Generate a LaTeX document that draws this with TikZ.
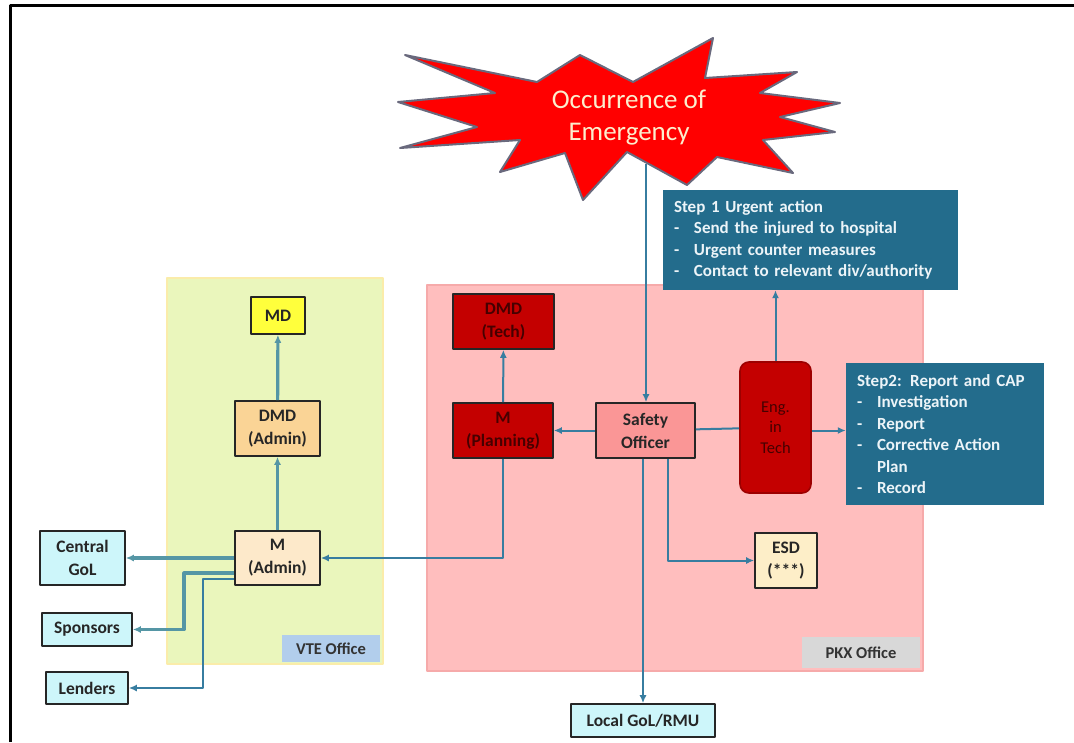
\documentclass[tikz,border=0pt]{standalone}
\usepackage{fontspec}
\setmainfont{Carlito}
\usetikzlibrary{arrows.meta,positioning}
\newcommand{\dashitem}{\makebox[20pt][l]{-}}

\begin{document}
\begin{tikzpicture}[x=1pt, y=-1pt, line join=round,
    box/.style={draw=black!85, line width=1.6pt, align=center, inner sep=0pt,
        text=black!85, font=\fontsize{17.5}{23}\selectfont\bfseries},
    redbox/.style={box, fill=techred, text=techtext},
    cyanbox/.style={box, fill=extcyan},
    stepbox/.style={fill=stepblue, text=steptext, align=left, inner xsep=11pt,
        inner ysep=0pt, font=\fontsize{17}{21.5}\selectfont\bfseries},
    officetag/.style={inner sep=0pt, text=black!80, font=\fontsize{16.5}{20}\selectfont\bfseries},
    plainlink/.style={draw=connblue, line width=2pt},
    conn/.style={plainlink, -{Latex[length=8pt,width=7pt]}},
    connthick/.style={conn, draw=connteal, line width=3.2pt},
    ]

    % Define custom colors
    \definecolor{starred}{RGB}{255, 0, 0}
    \definecolor{staredge}{RGB}{105, 105, 125}
    \definecolor{startext}{RGB}{252, 238, 205}
    \definecolor{stepblue}{RGB}{35, 108, 140}
    \definecolor{steptext}{RGB}{236, 244, 248}
    \definecolor{vtebg}{RGB}{234, 246, 188}
    \definecolor{vteedge}{RGB}{250, 236, 170}
    \definecolor{vtetag}{RGB}{178, 206, 236}
    \definecolor{pkxbg}{RGB}{255, 190, 190}
    \definecolor{pkxedge}{RGB}{246, 170, 170}
    \definecolor{pkxtag}{RGB}{216, 216, 216}
    \definecolor{mdyellow}{RGB}{255, 255, 60}
    \definecolor{dmdorange}{RGB}{250, 212, 150}
    \definecolor{madmin}{RGB}{253, 233, 202}
    \definecolor{techred}{RGB}{196, 0, 0}
    \definecolor{techtext}{RGB}{70, 0, 0}
    \definecolor{safetypink}{RGB}{250, 150, 150}
    \definecolor{esdcream}{RGB}{253, 238, 200}
    \definecolor{extcyan}{RGB}{205, 246, 250}
    \definecolor{connblue}{RGB}{55, 125, 160}
    \definecolor{connteal}{RGB}{85, 150, 165}

    \useasboundingbox (0,0) rectangle (1074,742);

    % =======================================================
    % FRAME AND OFFICE PANELS
    % =======================================================
    \draw[line width=3pt] (10,742) -- (10,5) -- (1074,5);

    \filldraw[fill=vtebg, draw=vteedge, line width=1.5pt] (167,278) rectangle (383,664);
    \filldraw[fill=pkxbg, draw=pkxedge, line width=1.5pt] (427,285) rectangle (923,671);

    \node[officetag, fill=vtetag, minimum width=98pt, minimum height=27pt] (vtetag) at (331,648.5) {VTE Office};
    \node[officetag, fill=pkxtag, minimum width=118pt, minimum height=31pt] (pkxtag) at (861,652.5) {PKX Office};

    % =======================================================
    % EMERGENCY STAR
    % =======================================================
    \filldraw[fill=starred, draw=staredge, line width=2pt]
        (405,55) -- (537,82) -- (580,55) -- (633,82) -- (713,38) -- (705,78)
        -- (797,72) -- (760,93) -- (840,103) -- (780,117) -- (835,132)
        -- (763,140) -- (793,173) -- (717,157) -- (687,185) -- (627,152)
        -- (583,200) -- (565,153) -- (500,172) -- (520,140) -- (400,148)
        -- (477,127) -- (398,102) -- (495,93) -- cycle;
    \node[align=center, text=startext, font=\fontsize{27}{32}\selectfont] (star) at (629,118) {Occurrence of\\Emergency};
    \coordinate (starfoot) at (646,164);

    % =======================================================
    % VTE OFFICE
    % =======================================================
    \node[box, fill=mdyellow, minimum width=54pt, minimum height=37pt] (md) at (278,315.5) {MD};
    \node[box, fill=dmdorange, minimum width=85pt, minimum height=55pt] (dmdadmin) at (277.5,428.5) {DMD\\(Admin)};
    \node[box, fill=madmin, minimum width=85pt, minimum height=54pt] (madmin) at (277.5,558) {M\\(Admin)};

    % outside parties
    \node[cyanbox, minimum width=85pt, minimum height=54pt] (centralgol) at (82.5,558) {Central\\GoL};
    \node[cyanbox, minimum width=90pt, minimum height=33pt] (sponsors) at (87,629.5) {Sponsors};
    \node[cyanbox, minimum width=82pt, minimum height=32pt] (lenders) at (87,688) {Lenders};
    \node[cyanbox, minimum width=144pt, minimum height=33pt] (localgol) at (643,720.5) {Local GoL/RMU};

    % =======================================================
    % PKX OFFICE
    % =======================================================
    \node[redbox, minimum width=101pt, minimum height=55pt] (dmdtech) at (503.5,321.5) {DMD\\(Tech)};
    \node[redbox, minimum width=100pt, minimum height=55pt] (mplan) at (503,430.5) {M\\(Planning)};
    \node[box, fill=safetypink, minimum width=99pt, minimum height=55pt] (safety) at (645.5,430.5) {Safety\\Officer};
    \node[redbox, draw=techred!80!black, rounded corners=9pt, minimum width=71pt, minimum height=131pt,
        font=\fontsize{16.5}{20.5}\selectfont] (eng) at (775.5,427.5) {Eng.\\in\\Tech};
    \node[box, fill=esdcream, minimum width=62pt, minimum height=55pt] (esd) at (786,560.5) {ESD\\(***)};

    % action steps
    \node[stepbox, minimum width=295pt, minimum height=100pt, text width=273pt] (step1) at (810.5,240)
        {Step 1 Urgent action\\
         \dashitem Send the injured to hospital\\
         \dashitem Urgent counter measures\\
         \dashitem Contact to relevant div/authority};
    \node[stepbox, minimum width=198pt, minimum height=142pt, text width=176pt] (step2) at (945,434)
        {Step2:\enspace Report and CAP\\
         \dashitem Investigation\\
         \dashitem Report\\
         \dashitem Corrective Action\\
         \hspace*{20pt}Plan\\
         \dashitem Record};

    % =======================================================
    % CONNECTORS
    % =======================================================
    % 1. Reporting chain in VTE office
    \draw[connthick] (madmin) -- (dmdadmin);
    \draw[connthick] (dmdadmin) -- (md);

    % 2. M (Admin) to outside parties
    \coordinate (spbend) at (184,573);
    \coordinate (lnbend) at (203,579);
    \draw[connthick] (madmin) -- (centralgol);
    \draw[connthick] (madmin.west |- spbend) -- (spbend) |- (sponsors.east);
    \draw[conn] (madmin.west |- lnbend) -- (lnbend) |- (lenders.east);

    % 3. PKX office links
    \draw[conn] (starfoot) -- (starfoot |- safety.north);
    \draw[conn] (safety) -- (mplan);
    \draw[conn] (mplan) -- (dmdtech);
    \draw[conn] (mplan.south) |- (madmin.east);
    \draw[plainlink] (safety) -- (eng);
    \draw[conn] (eng.east |- safety.east) -- (step2.west |- safety.east);
    \draw[conn] (eng.north) -- (eng.north |- step1.south);
    \draw[conn] ([xshift=22pt]safety.south) |- (esd.west);
    \draw[conn] (safety.south -| localgol.north) -- (localgol.north);

\end{tikzpicture}
\end{document}
